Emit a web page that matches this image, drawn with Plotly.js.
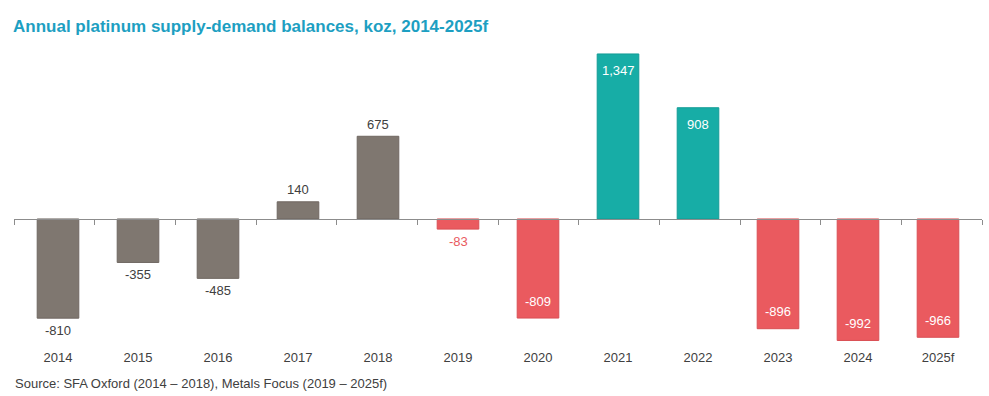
<!DOCTYPE html>
<html>
<head>
<meta charset="utf-8">
<script src="https://cdn.plot.ly/plotly-3.0.1.min.js"></script>
<style>html,body{margin:0;padding:0;background:#fff;}#chart{width:989px;height:396px;}</style>
</head>
<body>
<div id="chart"></div>
<script>
const years = ['2014','2015','2016','2017','2018','2019','2020','2021','2022','2023','2024','2025f'];
const balances = [-810, -355, -485, 140, 675, -83, -809, 1347, 908, -896, -992, -966];
const groups = ['SFA','SFA','SFA','SFA','SFA','deficit','deficit','surplus','surplus','deficit','deficit','deficit'];
const labelInside = [false,false,false,false,false,false,true,true,true,true,true,true];

const colorOf = {SFA:'#7f7770', deficit:'#ea5a5f', surplus:'#17ada6'};
const edgeOf = {SFA:'#6f6761', deficit:'#d94f54', surplus:'#139c96'};
const barColors = groups.map(g => colorOf[g]);
const edgeColors = groups.map(g => edgeOf[g]);
const textColors = labelInside.map((ins,i) => ins ? '#ffffff' : (groups[i]==='deficit' ? '#e95b60' : '#404040'));
const texts = balances.map(v => v.toLocaleString('en-US'));

const font = 'Liberation Sans, Arial, sans-serif';

const data = [{
  type: 'bar',
  x: years,
  y: balances,
  xaxis: 'x', yaxis: 'y',
  marker: {color: barColors, line: {width: 1, color: edgeColors}},
  width: 0.52,
  hoverinfo: 'x+y'
}, {
  // invisible helper so the zero-line axis (with boundary ticks) is drawn
  type: 'scatter', mode: 'markers',
  x: years.map((_, i) => i), y: balances,
  xaxis: 'x2', yaxis: 'y',
  marker: {opacity: 0, size: 1},
  hoverinfo: 'skip', showlegend: false
}];

const yMin = -1029, yMax = 1461;
const zeroFrac = (0 - yMin) / (yMax - yMin);
const plotW = 989 - 14 - 7;
const plotH = 396 - 40 - 51;

const annotations = years.map((yr, i) => {
  const v = balances[i];
  const s = v >= 0 ? 1 : -1;
  return {
    xref: 'x', yref: 'y', x: i, y: v,
    text: texts[i], showarrow: false,
    xanchor: 'center', yanchor: 'middle',
    yshift: labelInside[i] ? -s * 17 : s * 12,
    font: {family: font, size: 13, color: textColors[i]}
  };
});
annotations.push({
  text: 'Source: SFA Oxford (2014 – 2018), Metals Focus (2019 – 2025f)',
  xref: 'paper', yref: 'paper', x: -1/plotW, y: -(383 - 345)/plotH,
  xanchor: 'left', yanchor: 'middle', showarrow: false,
  font: {family: font, size: 13, color: '#404040'}
});

const layout = {
  width: 989, height: 396,
  margin: {l: 14, r: 7, t: 40, b: 51, pad: 0},
  paper_bgcolor: '#ffffff', plot_bgcolor: 'rgba(0,0,0,0)',
  showlegend: false,
  bargap: 0.48,
  title: {
    text: '<b>Annual platinum supply-demand balances, koz, 2014-2025f</b>',
    font: {family: font, size: 17, color: '#1d9fc2'},
    xref: 'container', x: 13/989, xanchor: 'left',
    yref: 'container', y: 1 - 26/396, yanchor: 'middle'
  },
  xaxis: {
    type: 'category', categoryorder: 'array', categoryarray: years,
    domain: [4/plotW, 1 - 4/plotW],
    range: [-0.5, 11.5],
    showline: false, showgrid: false, zeroline: false, ticks: '',
    tickfont: {family: font, size: 13, color: '#404040'},
    ticklabelstandoff: 3
  },
  xaxis2: {
    type: 'linear', anchor: 'free', position: zeroFrac,
    domain: [0, 1],
    range: [-0.5, 11.5],
    tickmode: 'array', tickvals: years.map((_, i) => i - 0.5).concat([years.length - 0.5]),
    showticklabels: false, ticks: 'outside', ticklen: 5, tickwidth: 1, tickcolor: '#8c8c8c',
    showline: true, linecolor: '#8c8c8c', linewidth: 1,
    showgrid: false, zeroline: false, fixedrange: true
  },
  yaxis: {
    range: [yMin, yMax], visible: false, showgrid: false, zeroline: false
  },
  annotations: annotations
};

Plotly.newPlot('chart', data, layout, {displayModeBar: false, staticPlot: true});
</script>
</body>
</html>
